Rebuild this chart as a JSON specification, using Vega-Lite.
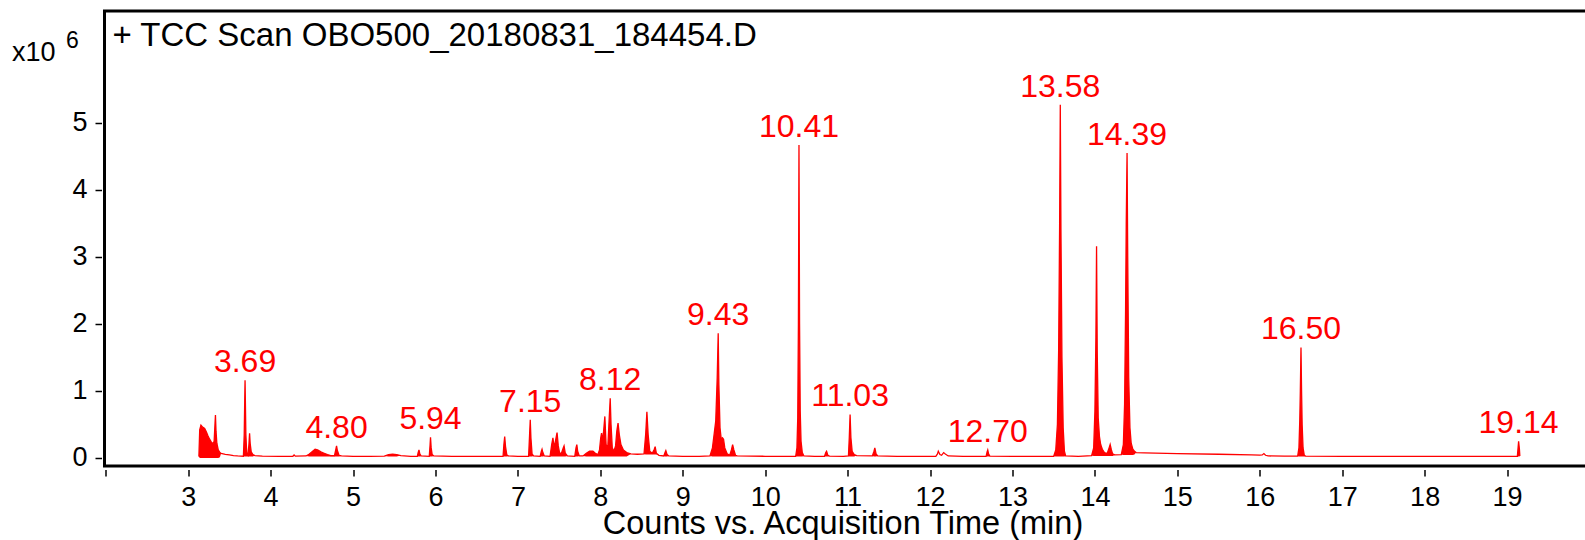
{
  "$schema": "https://vega.github.io/schema/vega-lite/v6.json",
  "autosize": {"type": "none"},
  "width": 1485,
  "height": 455,
  "padding": {"left": 104.5, "top": 11, "right": 0, "bottom": 74},
  "background": "white",
  "view": {"stroke": "black", "strokeWidth": 3},
  "config": {
    "font": "Liberation Sans",
    "axis": {"labelFont": "Liberation Sans", "titleFont": "Liberation Sans", "labelColor": "black", "titleColor": "black", "tickColor": "black", "grid": false, "domain": false, "titleFontWeight": "normal"}
  },
  "datasets": {
    "trace": [
      {"t":3.13,"c":0.02,"b":0.02},{"t":3.14,"c":0.42,"b":0.0},{"t":3.155,"c":0.49,"b":0.0},{"t":3.175,"c":0.46,"b":0.0},
      {"t":3.2,"c":0.44,"b":0.0},{"t":3.22,"c":0.39,"b":0.0},{"t":3.24,"c":0.33,"b":0.0},{"t":3.26,"c":0.28,"b":0.0},
      {"t":3.28,"c":0.24,"b":0.0},{"t":3.3,"c":0.21,"b":0.0},{"t":3.315,"c":0.25,"b":0.0},{"t":3.325,"c":0.5,"b":0.0},
      {"t":3.331,"c":0.64,"b":0.0},{"t":3.338,"c":0.4,"b":0.0},{"t":3.348,"c":0.22,"b":0.0},{"t":3.365,"c":0.12,"b":0.0},
      {"t":3.385,"c":0.08,"b":0.01},{"t":3.4,"c":0.07,"b":0.07},{"t":3.45,"c":0.055,"b":0.055},{"t":3.5,"c":0.045,"b":0.045},
      {"t":3.55,"c":0.036,"b":0.036},{"t":3.6,"c":0.03,"b":0.03},{"t":3.67,"c":0.026,"b":0.026},
      {"t":3.68,"c":0.35,"b":0.02},{"t":3.686,"c":0.85,"b":0.02},{"t":3.69,"c":1.16,"b":0.02},{"t":3.694,"c":0.85,"b":0.02},
      {"t":3.7,"c":0.35,"b":0.02},{"t":3.71,"c":0.08,"b":0.02},{"t":3.725,"c":0.045,"b":0.02},{"t":3.737,"c":0.2,"b":0.02},
      {"t":3.745,"c":0.37,"b":0.02},{"t":3.752,"c":0.22,"b":0.02},{"t":3.765,"c":0.09,"b":0.02},{"t":3.785,"c":0.05,"b":0.02},
      {"t":3.81,"c":0.035,"b":0.035},{"t":3.9,"c":0.028,"b":0.028},{"t":4.1,"c":0.025,"b":0.025},{"t":4.27,"c":0.025,"b":0.025},
      {"t":4.285,"c":0.045,"b":0.045},{"t":4.3,"c":0.027,"b":0.027},{"t":4.43,"c":0.03,"b":0.03},
      {"t":4.47,"c":0.06,"b":0.022},{"t":4.51,"c":0.1,"b":0.022},{"t":4.54,"c":0.13,"b":0.022},{"t":4.57,"c":0.12,"b":0.022},
      {"t":4.61,"c":0.09,"b":0.022},{"t":4.65,"c":0.07,"b":0.022},{"t":4.69,"c":0.05,"b":0.022},{"t":4.73,"c":0.035,"b":0.022},
      {"t":4.775,"c":0.035,"b":0.022},{"t":4.79,"c":0.12,"b":0.022},{"t":4.8,"c":0.18,"b":0.022},{"t":4.81,"c":0.11,"b":0.022},
      {"t":4.83,"c":0.04,"b":0.022},{"t":4.86,"c":0.03,"b":0.03},{"t":5.0,"c":0.025,"b":0.025},{"t":5.2,"c":0.025,"b":0.025},
      {"t":5.38,"c":0.028,"b":0.028},{"t":5.43,"c":0.048,"b":0.022},{"t":5.48,"c":0.055,"b":0.022},{"t":5.53,"c":0.05,"b":0.022},
      {"t":5.58,"c":0.035,"b":0.035},{"t":5.7,"c":0.025,"b":0.025},{"t":5.78,"c":0.025,"b":0.025},
      {"t":5.79,"c":0.08,"b":0.022},{"t":5.8,"c":0.12,"b":0.022},{"t":5.81,"c":0.06,"b":0.022},{"t":5.825,"c":0.03,"b":0.03},
      {"t":5.925,"c":0.025,"b":0.025},{"t":5.935,"c":0.2,"b":0.022},{"t":5.94,"c":0.31,"b":0.022},{"t":5.948,"c":0.15,"b":0.022},
      {"t":5.96,"c":0.05,"b":0.022},{"t":5.98,"c":0.03,"b":0.03},{"t":6.2,"c":0.025,"b":0.025},{"t":6.5,"c":0.025,"b":0.025},
      {"t":6.82,"c":0.025,"b":0.025},{"t":6.83,"c":0.2,"b":0.022},{"t":6.84,"c":0.32,"b":0.022},{"t":6.85,"c":0.17,"b":0.022},
      {"t":6.865,"c":0.05,"b":0.022},{"t":6.88,"c":0.03,"b":0.03},{"t":7.0,"c":0.025,"b":0.025},{"t":7.13,"c":0.025,"b":0.025},
      {"t":7.142,"c":0.35,"b":0.022},{"t":7.15,"c":0.57,"b":0.022},{"t":7.158,"c":0.3,"b":0.022},{"t":7.172,"c":0.06,"b":0.022},
      {"t":7.19,"c":0.03,"b":0.03},{"t":7.27,"c":0.025,"b":0.025},{"t":7.285,"c":0.1,"b":0.022},{"t":7.293,"c":0.13,"b":0.022},
      {"t":7.303,"c":0.08,"b":0.022},{"t":7.32,"c":0.03,"b":0.03},{"t":7.39,"c":0.025,"b":0.025},{"t":7.41,"c":0.2,"b":0.022},
      {"t":7.425,"c":0.3,"b":0.022},{"t":7.44,"c":0.15,"b":0.022},{"t":7.46,"c":0.28,"b":0.022},{"t":7.475,"c":0.38,"b":0.022},
      {"t":7.49,"c":0.18,"b":0.022},{"t":7.505,"c":0.08,"b":0.022},{"t":7.525,"c":0.06,"b":0.022},{"t":7.55,"c":0.15,"b":0.022},
      {"t":7.56,"c":0.18,"b":0.022},{"t":7.575,"c":0.07,"b":0.022},{"t":7.6,"c":0.03,"b":0.03},{"t":7.69,"c":0.025,"b":0.025},
      {"t":7.705,"c":0.15,"b":0.022},{"t":7.715,"c":0.2,"b":0.022},{"t":7.725,"c":0.1,"b":0.022},{"t":7.745,"c":0.03,"b":0.03},
      {"t":7.79,"c":0.03,"b":0.03},{"t":7.83,"c":0.07,"b":0.022},{"t":7.87,"c":0.1,"b":0.022},{"t":7.91,"c":0.1,"b":0.022},
      {"t":7.94,"c":0.07,"b":0.022},{"t":7.97,"c":0.05,"b":0.022},{"t":7.99,"c":0.12,"b":0.022},{"t":8.005,"c":0.3,"b":0.022},
      {"t":8.015,"c":0.37,"b":0.022},{"t":8.025,"c":0.25,"b":0.022},{"t":8.04,"c":0.4,"b":0.022},{"t":8.055,"c":0.62,"b":0.022},
      {"t":8.07,"c":0.2,"b":0.022},{"t":8.09,"c":0.15,"b":0.022},{"t":8.108,"c":0.6,"b":0.022},{"t":8.12,"c":0.89,"b":0.022},
      {"t":8.13,"c":0.5,"b":0.022},{"t":8.145,"c":0.15,"b":0.022},{"t":8.165,"c":0.1,"b":0.022},{"t":8.185,"c":0.18,"b":0.022},
      {"t":8.2,"c":0.4,"b":0.022},{"t":8.215,"c":0.52,"b":0.022},{"t":8.23,"c":0.35,"b":0.022},{"t":8.25,"c":0.2,"b":0.022},
      {"t":8.28,"c":0.12,"b":0.022},{"t":8.32,"c":0.08,"b":0.022},{"t":8.37,"c":0.06,"b":0.06},{"t":8.45,"c":0.055,"b":0.055},
      {"t":8.53,"c":0.06,"b":0.06},{"t":8.55,"c":0.35,"b":0.05},{"t":8.565,"c":0.69,"b":0.05},{"t":8.58,"c":0.35,"b":0.05},
      {"t":8.6,"c":0.1,"b":0.05},{"t":8.63,"c":0.07,"b":0.05},{"t":8.655,"c":0.13,"b":0.05},{"t":8.665,"c":0.17,"b":0.05},
      {"t":8.68,"c":0.07,"b":0.05},{"t":8.71,"c":0.04,"b":0.04},{"t":8.77,"c":0.03,"b":0.03},{"t":8.785,"c":0.08,"b":0.022},
      {"t":8.795,"c":0.11,"b":0.022},{"t":8.81,"c":0.05,"b":0.022},{"t":8.83,"c":0.03,"b":0.03},{"t":9.0,"c":0.025,"b":0.025},
      {"t":9.2,"c":0.025,"b":0.025},{"t":9.33,"c":0.03,"b":0.03},{"t":9.36,"c":0.15,"b":0.022},{"t":9.38,"c":0.35,"b":0.022},
      {"t":9.4,"c":0.55,"b":0.022},{"t":9.418,"c":1.2,"b":0.022},{"t":9.43,"c":1.86,"b":0.022},{"t":9.438,"c":1.1,"b":0.022},
      {"t":9.452,"c":0.45,"b":0.022},{"t":9.467,"c":0.28,"b":0.022},{"t":9.482,"c":0.3,"b":0.022},{"t":9.495,"c":0.28,"b":0.022},
      {"t":9.51,"c":0.15,"b":0.022},{"t":9.54,"c":0.06,"b":0.022},{"t":9.57,"c":0.04,"b":0.022},{"t":9.59,"c":0.12,"b":0.022},
      {"t":9.605,"c":0.2,"b":0.022},{"t":9.62,"c":0.12,"b":0.022},{"t":9.64,"c":0.04,"b":0.022},{"t":9.66,"c":0.03,"b":0.03},
      {"t":10.0,"c":0.025,"b":0.025},{"t":10.2,"c":0.025,"b":0.025},{"t":10.37,"c":0.025,"b":0.025},{"t":10.385,"c":0.15,"b":0.022},
      {"t":10.395,"c":0.6,"b":0.022},{"t":10.403,"c":2.0,"b":0.022},{"t":10.41,"c":4.67,"b":0.022},{"t":10.417,"c":2.0,"b":0.022},
      {"t":10.425,"c":0.7,"b":0.022},{"t":10.435,"c":0.25,"b":0.022},{"t":10.45,"c":0.08,"b":0.022},{"t":10.47,"c":0.03,"b":0.03},
      {"t":10.6,"c":0.025,"b":0.025},{"t":10.72,"c":0.025,"b":0.025},{"t":10.735,"c":0.08,"b":0.022},{"t":10.745,"c":0.1,"b":0.022},
      {"t":10.76,"c":0.04,"b":0.022},{"t":10.78,"c":0.028,"b":0.028},{"t":10.95,"c":0.025,"b":0.025},{"t":11.01,"c":0.03,"b":0.03},
      {"t":11.02,"c":0.3,"b":0.022},{"t":11.03,"c":0.65,"b":0.022},{"t":11.04,"c":0.3,"b":0.022},{"t":11.055,"c":0.1,"b":0.022},
      {"t":11.08,"c":0.05,"b":0.022},{"t":11.11,"c":0.035,"b":0.035},{"t":11.3,"c":0.03,"b":0.03},{"t":11.32,"c":0.1,"b":0.022},
      {"t":11.33,"c":0.15,"b":0.022},{"t":11.345,"c":0.06,"b":0.022},{"t":11.365,"c":0.03,"b":0.03},{"t":11.6,"c":0.025,"b":0.025},
      {"t":11.9,"c":0.025,"b":0.025},{"t":12.07,"c":0.025,"b":0.025},{"t":12.09,"c":0.06,"b":0.06},{"t":12.1,"c":0.1,"b":0.1},
      {"t":12.12,"c":0.05,"b":0.05},{"t":12.14,"c":0.04,"b":0.04},{"t":12.165,"c":0.08,"b":0.08},{"t":12.185,"c":0.06,"b":0.06},
      {"t":12.22,"c":0.03,"b":0.03},{"t":12.4,"c":0.025,"b":0.025},{"t":12.68,"c":0.025,"b":0.025},{"t":12.692,"c":0.09,"b":0.022},
      {"t":12.7,"c":0.12,"b":0.022},{"t":12.71,"c":0.06,"b":0.022},{"t":12.725,"c":0.028,"b":0.028},{"t":13.0,"c":0.025,"b":0.025},
      {"t":13.3,"c":0.025,"b":0.025},{"t":13.5,"c":0.025,"b":0.025},{"t":13.525,"c":0.12,"b":0.022},{"t":13.545,"c":0.5,"b":0.022},
      {"t":13.56,"c":1.6,"b":0.022},{"t":13.572,"c":3.5,"b":0.022},{"t":13.58,"c":5.27,"b":0.022},{"t":13.588,"c":3.4,"b":0.022},
      {"t":13.6,"c":1.5,"b":0.022},{"t":13.615,"c":0.45,"b":0.022},{"t":13.63,"c":0.1,"b":0.022},{"t":13.645,"c":0.03,"b":0.03},
      {"t":13.8,"c":0.025,"b":0.025},{"t":13.96,"c":0.035,"b":0.035},{"t":13.985,"c":0.15,"b":0.03},{"t":14.0,"c":0.7,"b":0.03},
      {"t":14.012,"c":1.8,"b":0.03},{"t":14.02,"c":3.16,"b":0.03},{"t":14.028,"c":1.6,"b":0.03},{"t":14.04,"c":0.6,"b":0.03},
      {"t":14.055,"c":0.32,"b":0.03},{"t":14.07,"c":0.2,"b":0.03},{"t":14.09,"c":0.13,"b":0.03},{"t":14.11,"c":0.09,"b":0.03},
      {"t":14.13,"c":0.07,"b":0.03},{"t":14.15,"c":0.07,"b":0.03},{"t":14.172,"c":0.15,"b":0.03},{"t":14.185,"c":0.2,"b":0.03},
      {"t":14.2,"c":0.12,"b":0.03},{"t":14.215,"c":0.06,"b":0.03},{"t":14.24,"c":0.045,"b":0.045},{"t":14.32,"c":0.05,"b":0.05},
      {"t":14.345,"c":0.2,"b":0.045},{"t":14.36,"c":0.8,"b":0.045},{"t":14.372,"c":2.2,"b":0.045},{"t":14.38,"c":3.5,"b":0.045},
      {"t":14.39,"c":4.55,"b":0.045},{"t":14.398,"c":3.0,"b":0.045},{"t":14.41,"c":1.2,"b":0.045},{"t":14.425,"c":0.45,"b":0.045},
      {"t":14.44,"c":0.22,"b":0.045},{"t":14.46,"c":0.13,"b":0.045},{"t":14.48,"c":0.1,"b":0.05},{"t":14.5,"c":0.08,"b":0.08},
      {"t":14.6,"c":0.075,"b":0.075},{"t":15.0,"c":0.065,"b":0.065},{"t":15.5,"c":0.055,"b":0.055},{"t":15.9,"c":0.045,"b":0.045},
      {"t":16.0,"c":0.042,"b":0.042},{"t":16.03,"c":0.045,"b":0.045},{"t":16.05,"c":0.065,"b":0.065},{"t":16.07,"c":0.04,"b":0.04},
      {"t":16.1,"c":0.03,"b":0.03},{"t":16.3,"c":0.028,"b":0.028},{"t":16.46,"c":0.028,"b":0.028},{"t":16.475,"c":0.15,"b":0.022},
      {"t":16.485,"c":0.55,"b":0.022},{"t":16.492,"c":1.0,"b":0.022},{"t":16.5,"c":1.65,"b":0.022},{"t":16.507,"c":1.0,"b":0.022},
      {"t":16.514,"c":0.5,"b":0.022},{"t":16.525,"c":0.15,"b":0.022},{"t":16.54,"c":0.04,"b":0.022},{"t":16.555,"c":0.028,"b":0.028},
      {"t":17.0,"c":0.025,"b":0.025},{"t":18.0,"c":0.025,"b":0.025},{"t":19.0,"c":0.025,"b":0.025},{"t":19.125,"c":0.025,"b":0.025},
      {"t":19.14,"c":0.25,"b":0.022},{"t":19.15,"c":0.13,"b":0.022},{"t":19.155,"c":0.03,"b":0.03}
    ],
    "peaks": [
      {"t":3.69,"c":1.16,"label":"3.69"},{"t":4.8,"c":0.18,"label":"4.80"},{"t":5.94,"c":0.31,"label":"5.94"},
      {"t":7.15,"c":0.57,"label":"7.15"},{"t":8.12,"c":0.89,"label":"8.12"},{"t":9.43,"c":1.86,"label":"9.43"},
      {"t":10.41,"c":4.67,"label":"10.41"},{"t":11.03,"c":0.65,"label":"11.03"},{"t":12.7,"c":0.12,"label":"12.70"},
      {"t":13.58,"c":5.27,"label":"13.58"},{"t":14.39,"c":4.55,"label":"14.39"},{"t":16.5,"c":1.65,"label":"16.50"},
      {"t":19.14,"c":0.25,"label":"19.14"}
    ]
  },
  "resolve": {"axis": {"y": "independent", "x": "independent"}},
  "layer": [
    {
      "data": {"name": "trace"},
      "mark": {"type": "area", "color": "#ff0000", "opacity": 1},
      "encoding": {
        "x": {"field": "t", "type": "quantitative",
          "scale": {"domain": [1.985, 20], "nice": false, "zero": false},
          "axis": {"values": [2,3,4,5,6,7,8,9,10,11,12,13,14,15,16,17,18,19,20],
            "format": "d",
            "labelExpr": "datum.value == 2 || datum.value == 20 ? '' : datum.label",
            "offset": 3.5, "tickSize": 6.5, "tickWidth": 1.5, "labelFontSize": 27, "labelPadding": 8,
            "labelFlush": false, "labelOverlap": false,
            "title": "Counts vs. Acquisition Time (min)", "titleFontSize": 32.5,
            "titleX": 738, "titleY": 64, "titleBaseline": "alphabetic", "titleAnchor": null}},
        "y": {"field": "c", "type": "quantitative",
          "scale": {"domain": [-0.12, 6.67], "nice": false, "zero": false},
          "axis": {"values": [0,1,2,3,4,5], "offset": 3, "tickSize": 6.5, "tickWidth": 1.5,
            "labelFontSize": 27, "labelPadding": 8, "labelFlush": false,
            "title": "x10", "titleAngle": 0, "titleAlign": "left", "titleBaseline": "alphabetic",
            "titleFontSize": 27, "titleX": -90, "titleY": 49}},
        "y2": {"field": "b"}
      }
    },
    {
      "data": {"name": "trace"},
      "mark": {"type": "line", "color": "#ff0000", "strokeWidth": 1.3},
      "encoding": {
        "x": {"field": "t", "type": "quantitative",
          "axis": {"orient": "top", "domain": false, "ticks": false, "labels": false,
            "title": "+ TCC Scan OBO500_20180831_184454.D", "titleFontSize": 33,
            "titleAlign": "left", "titleAnchor": null, "titleBaseline": "alphabetic", "titleAngle": 0,
            "titleX": 7.5, "titleY": 34.5}},
        "y": {"field": "c", "type": "quantitative", "axis": null}
      }
    },
    {
      "data": {"name": "peaks"},
      "mark": {"type": "text", "color": "#ff0000", "fontSize": 32, "font": "Liberation Sans", "align": "center", "baseline": "alphabetic", "dy": -8},
      "encoding": {
        "x": {"field": "t", "type": "quantitative", "axis": null},
        "y": {"field": "c", "type": "quantitative",
          "axis": {"orient": "right", "domain": false, "ticks": false, "labels": false,
            "title": "6", "titleAngle": 0, "titleAlign": "left", "titleBaseline": "alphabetic",
            "titleFontSize": 23, "titleX": -1524, "titleY": 36}},
        "text": {"field": "label"}
      }
    }
  ]
}
